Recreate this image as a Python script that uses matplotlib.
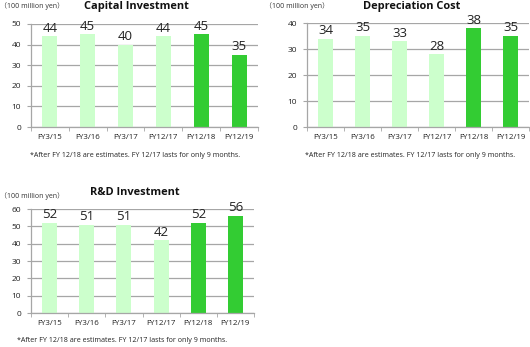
import matplotlib
matplotlib.use("Agg")
import matplotlib.pyplot as plt
from matplotlib.ticker import MultipleLocator

plt.rcParams['font.family'] = ['Open Sans', 'Noto Sans CJK JP', 'DejaVu Sans']

categories = ["FY3/15", "FY3/16", "FY3/17", "FY12/17", "FY12/18", "FY12/19"]
capital = [44, 45, 40, 44, 45, 35]
depreciation = [34, 35, 33, 28, 38, 35]
rnd = [52, 51, 51, 42, 52, 56]
estimate = [False, False, False, False, True, True]

LIGHT = '#CCFFCC'
DARK = '#33CC33'
GRID = '#A6A6A6'
NOTE = "*After FY 12/18 are estimates. FY 12/17 lasts for only 9 months."
UNIT = "（100 million yen）"

W, H = 530, 347
fig = plt.figure(figsize=(W / 100, H / 100), dpi=100)


def px_axes(left, right, top, bottom):
    return fig.add_axes([left / W, 1 - bottom / H, (right - left) / W, (bottom - top) / H])


def draw_panel(ax, values, ymax, step, title, title_xy, unit_xy, note_xy):
    colors = [DARK if e else LIGHT for e in estimate]
    x = range(len(categories))
    ax.bar(x, values, width=0.4, color=colors, zorder=2)
    for i, v in enumerate(values):
        ax.text(i, v + ymax * 0.015, str(v), ha='center', va='bottom',
                fontsize=9.5, color='#222222', zorder=3)
    ax.set_xlim(-0.5, len(categories) - 0.5)
    ax.set_ylim(0, ymax)
    ax.yaxis.set_major_locator(MultipleLocator(step))
    ax.grid(axis='y', color=GRID, linewidth=0.9, zorder=0)
    ax.set_axisbelow(True)
    ax.set_xticks(list(x))
    ax.set_xticklabels(categories)
    ax.set_xticks([i + 0.5 for i in range(-1, len(categories))], minor=True)
    ax.tick_params(axis='x', which='major', length=0, labelsize=5.7, pad=5, colors='#222222')
    ax.tick_params(axis='x', which='minor', length=3, color=GRID)
    ax.tick_params(axis='y', length=3, color=GRID, labelsize=6, pad=4, labelcolor='#222222')
    for s in ('top', 'right'):
        ax.spines[s].set_visible(False)
    for s in ('left', 'bottom'):
        ax.spines[s].set_color(GRID)
        ax.spines[s].set_linewidth(0.9)
    fig.text(title_xy[0] / W, 1 - title_xy[1] / H, title, ha='center', va='center',
             fontsize=7.9, fontweight='bold', color='#111111')
    fig.text(unit_xy[0] / W, 1 - unit_xy[1] / H, UNIT, ha='left', va='center',
             fontsize=5, color='#333333')
    fig.text(note_xy[0] / W, 1 - note_xy[1] / H, NOTE, ha='left', va='center',
             fontsize=5.1, color='#222222')


ax1 = px_axes(31, 258, 24, 127)
draw_panel(ax1, capital, 50, 10, "Capital Investment", (136, 7), (0, 6), (30, 155))

ax2 = px_axes(307, 529, 23, 127)
draw_panel(ax2, depreciation, 40, 10, "Depreciation Cost", (412, 6), (265, 6), (305, 155))

ax3 = px_axes(31, 254, 209, 313)
draw_panel(ax3, rnd, 60, 10, "R&D Investment", (135, 192), (0, 196), (17, 341))

fig.savefig("out.png", dpi=100)
